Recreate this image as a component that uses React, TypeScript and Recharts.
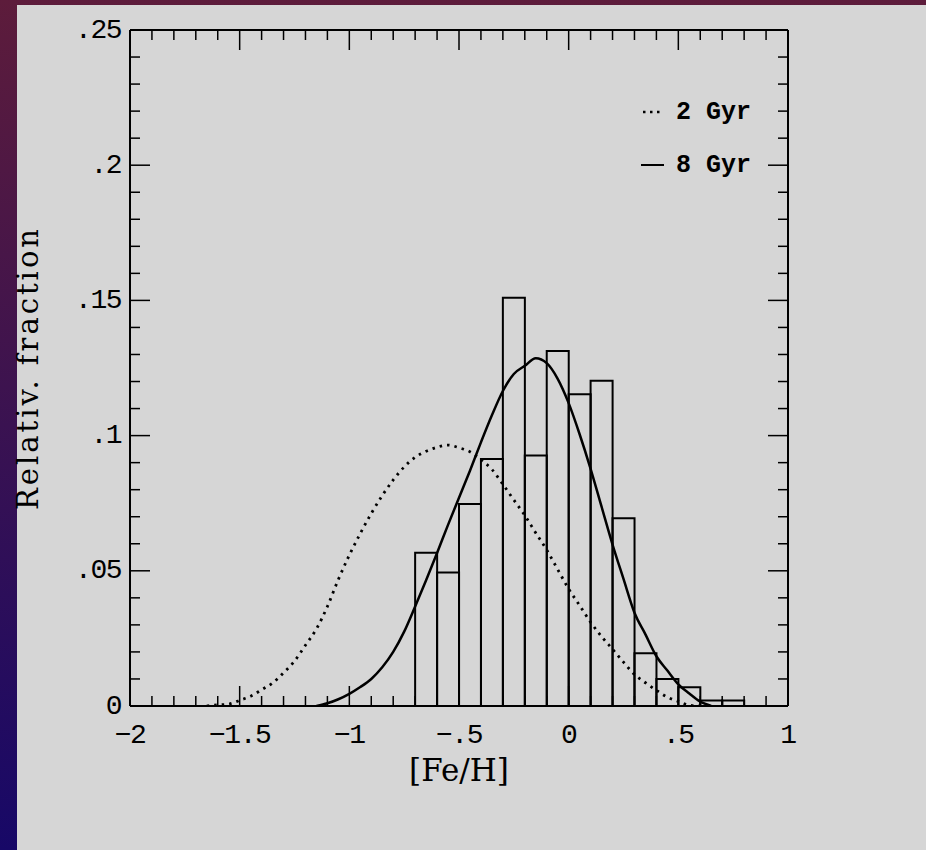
import React from 'react';
import { ComposedChart, Bar, Line, XAxis, YAxis, Legend } from 'recharts';

// histogram: bin centres and relative fractions
const binCenters = [-0.65, -0.55, -0.45, -0.35, -0.25, -0.15, -0.05, 0.05, 0.15, 0.25, 0.35, 0.45, 0.55, 0.65, 0.75];
const binFractions = [0.0567, 0.0494, 0.0747, 0.0913, 0.151, 0.0926, 0.1313, 0.1153, 0.1203, 0.0694, 0.0195, 0.01, 0.0069, 0.002, 0.002];

// 2 Gyr model (dotted)
const twoGyrFeH = [-1.65, -1.6, -1.55, -1.5, -1.45, -1.4, -1.35, -1.3, -1.25, -1.2, -1.15, -1.1, -1.05, -1.0, -0.95, -0.9, -0.85, -0.8, -0.75, -0.7, -0.65, -0.6, -0.55, -0.5, -0.45, -0.4, -0.35, -0.3, -0.25, -0.2, -0.15, -0.1, -0.05, 0, 0.05, 0.1, 0.15, 0.2, 0.25, 0.3, 0.35, 0.4, 0.45, 0.5, 0.55, 0.6];
const twoGyrFrac = [0, 0.0004, 0.0007, 0.0021, 0.0036, 0.006, 0.0085, 0.0123, 0.0166, 0.0225, 0.0285, 0.0368, 0.0468, 0.0558, 0.0638, 0.0712, 0.0778, 0.0836, 0.0884, 0.092, 0.0942, 0.0957, 0.0965, 0.0955, 0.094, 0.091, 0.0875, 0.082, 0.0762, 0.0705, 0.064, 0.0577, 0.0505, 0.0433, 0.0372, 0.031, 0.0257, 0.021, 0.0162, 0.0117, 0.0086, 0.0058, 0.0033, 0.0017, 0.0003, 0];

// 8 Gyr model (solid)
const eightGyrFeH = [-1.15, -1.1, -1.05, -1.0, -0.95, -0.9, -0.85, -0.8, -0.75, -0.7, -0.65, -0.6, -0.55, -0.5, -0.45, -0.4, -0.35, -0.3, -0.25, -0.2, -0.15, -0.1, -0.05, 0, 0.05, 0.1, 0.15, 0.2, 0.25, 0.3, 0.35, 0.4, 0.45, 0.5, 0.55, 0.6, 0.65];
const eightGyrFrac = [0, 0.001, 0.0025, 0.0045, 0.007, 0.01, 0.0143, 0.02, 0.0275, 0.0368, 0.0465, 0.0566, 0.067, 0.077, 0.087, 0.0975, 0.1075, 0.1165, 0.1228, 0.1258, 0.1286, 0.1268, 0.121, 0.112, 0.1005, 0.0877, 0.0737, 0.0597, 0.047, 0.0345, 0.0265, 0.0184, 0.0131, 0.008, 0.0046, 0.0016, 0];

const xTicks = [-2, -1.9, -1.8, -1.7, -1.6, -1.5, -1.4, -1.3, -1.2, -1.1, -1, -0.9, -0.8, -0.7, -0.6, -0.5, -0.4, -0.3, -0.2, -0.1, 0, 0.1, 0.2, 0.3, 0.4, 0.5, 0.6, 0.7, 0.8, 0.9, 1];
const yTicks = [0, 0.01, 0.02, 0.03, 0.04, 0.05, 0.06, 0.07, 0.08, 0.09, 0.1, 0.11, 0.12, 0.13, 0.14, 0.15, 0.16, 0.17, 0.18, 0.19, 0.2, 0.21, 0.22, 0.23, 0.24, 0.25];

const bins = binCenters.map((x, i) => ({ feh: x, frac: binFractions[i] }));
const twoGyr = twoGyrFeH.map((x, i) => ({ feh: x, frac: twoGyrFrac[i] }));
const eightGyr = eightGyrFeH.map((x, i) => ({ feh: x, frac: eightGyrFrac[i] }));

const tickFont = { fontFamily: '"Liberation Mono", monospace', fontSize: 28, letterSpacing: -1.5, fill: '#000' };
const labelFont = '"DejaVu Serif", serif';

const isMajorX = (v: number) => Math.abs(v * 2 - Math.round(v * 2)) < 1e-6;
const isMajorY = (v: number) => Math.abs(v * 20 - Math.round(v * 20)) < 1e-6;

const fmt = (v: number) => {
  if (Math.abs(v) < 1e-9) return '0';
  const s = String(Math.abs(v)).replace(/^0\./, '.');
  return (v < 0 ? '\u2212' : '') + s;
};

const BottomTick = ({ x, y, payload }: any) => {
  const major = isMajorX(payload.value);
  return (
    <g>
      <line x1={x} x2={x} y1={y} y2={y - (major ? 20 : 10)} stroke="#000" strokeWidth={1.5} />
      {major && (
        <text x={x} y={y + 29} textAnchor="middle" dominantBaseline="central" {...tickFont}>
          {fmt(payload.value)}
        </text>
      )}
    </g>
  );
};

const TopTick = ({ x, y, payload }: any) => {
  const major = isMajorX(payload.value);
  return <line x1={x} x2={x} y1={y} y2={y + (major ? 20 : 10)} stroke="#000" strokeWidth={1.5} />;
};

const LeftTick = ({ x, y, payload }: any) => {
  const major = isMajorY(payload.value);
  return (
    <g>
      <line x1={x} x2={x + (major ? 20 : 10)} y1={y} y2={y} stroke="#000" strokeWidth={1.5} />
      {major && (
        <text x={x - 9} y={y} textAnchor="end" dominantBaseline="central" {...tickFont}>
          {fmt(payload.value)}
        </text>
      )}
    </g>
  );
};

const RightTick = ({ x, y, payload }: any) => {
  const major = isMajorY(payload.value);
  return <line x1={x} x2={x - (major ? 20 : 10)} y1={y} y2={y} stroke="#000" strokeWidth={1.5} />;
};

const YTitle = ({ viewBox }: any) => {
  const cy = viewBox.y + viewBox.height / 2;
  return (
    <text x={28} y={cy} transform={`rotate(-90, 28, ${cy})`} textAnchor="middle" dominantBaseline="central"
      fontFamily={labelFont} fontSize={29} letterSpacing={3} fill="#000">
      Relativ. fraction
    </text>
  );
};

const XTitle = ({ viewBox }: any) => (
  <text x={viewBox.x + viewBox.width / 2} y={viewBox.y + 64} textAnchor="middle" dominantBaseline="central"
    fontFamily={labelFont} fontSize={31} fill="#000">
    [Fe/H]
  </text>
);

const LegendBox = () => (
  <div style={{ fontFamily: '"Liberation Mono", monospace', fontWeight: 'bold', fontSize: 25, color: '#000' }}>
    <div style={{ display: 'flex', alignItems: 'center', height: 30 }}>
      <svg width={30} height={10}>
        <line x1={7} x2={24} y1={5} y2={5} stroke="#000" strokeWidth={2.5} strokeDasharray="2.5 4.5" />
      </svg>
      <span style={{ marginLeft: 10 }}>2 Gyr</span>
    </div>
    <div style={{ display: 'flex', alignItems: 'center', height: 30, marginTop: 23 }}>
      <svg width={30} height={10}>
        <line x1={5} x2={28} y1={5} y2={5} stroke="#000" strokeWidth={2} />
      </svg>
      <span style={{ marginLeft: 10 }}>8 Gyr</span>
    </div>
  </div>
);

export default function App() {
  return (
    <div style={{ position: 'absolute', left: 0, top: 0, width: 926, height: 850, background: 'linear-gradient(to bottom, #5d1c3b, #170867)' }}>
      <div style={{ position: 'absolute', left: 17, top: 5, right: 0, bottom: 0, background: '#d6d6d6' }} />
      <div style={{ position: 'absolute', left: 0, top: 0 }}>
        <ComposedChart width={926} height={850} data={bins} barCategoryGap={0} margin={{ top: 29, right: 137, bottom: 0, left: 0 }}>
          <XAxis dataKey="feh" type="number" domain={[-2, 1]} ticks={xTicks} interval={0} allowDataOverflow
            height={144} tickSize={0} tickMargin={0} tickLine={false} axisLine={{ stroke: '#000', strokeWidth: 2 }}
            tick={<BottomTick />} label={<XTitle />} />
          <XAxis xAxisId="top" dataKey="feh" orientation="top" type="number" domain={[-2, 1]} ticks={xTicks} interval={0} allowDataOverflow
            height={1} tickSize={0} tickMargin={0} tickLine={false} axisLine={{ stroke: '#000', strokeWidth: 2 }}
            tick={<TopTick />} />
          <YAxis type="number" domain={[0, 0.25]} ticks={yTicks} interval={0} allowDataOverflow
            width={130} tickSize={0} tickMargin={0} tickLine={false} axisLine={{ stroke: '#000', strokeWidth: 2 }}
            tick={<LeftTick />} label={<YTitle />} />
          <YAxis yAxisId="right" orientation="right" type="number" domain={[0, 0.25]} ticks={yTicks} interval={0} allowDataOverflow
            width={1} tickSize={0} tickMargin={0} tickLine={false} axisLine={{ stroke: '#000', strokeWidth: 2 }}
            tick={<RightTick />} />
          <Bar yAxisId="right" dataKey="frac" fill="none" stroke="#000" strokeWidth={2} isAnimationActive={false} />
          <Line xAxisId="top" data={twoGyr} dataKey="frac" name="2 Gyr" type="monotone" stroke="#000" strokeWidth={2.8}
            strokeDasharray="2.5 5" dot={false} activeDot={false} isAnimationActive={false} />
          <Line xAxisId="top" data={eightGyr} dataKey="frac" name="8 Gyr" type="monotone" stroke="#000" strokeWidth={2.5}
            dot={false} activeDot={false} isAnimationActive={false} />
          <Legend layout="vertical" align="center" verticalAlign="middle" content={<LegendBox />}
            wrapperStyle={{ left: 636, top: 97, width: 150, height: 90 }} />
        </ComposedChart>
      </div>
    </div>
  );
}
